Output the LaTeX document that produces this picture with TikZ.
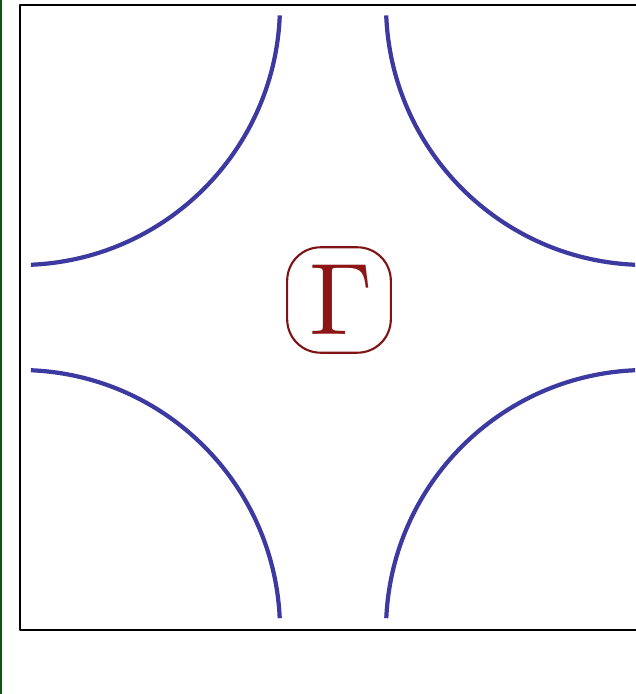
\documentclass[tikz,border=0pt]{standalone}
\usepackage{graphicx}
\definecolor{arcblue}{RGB}{60,58,160}
\definecolor{gamred}{RGB}{140,22,22}
\definecolor{edgegreen}{RGB}{10,90,10}
\tikzset{
	fermi/.style={line width=2.4pt,color=arcblue,line cap=butt},
	gambox/.style={draw=gamred!90!black,line width=1.2pt,rounded corners=19pt,minimum width=59pt,minimum height=60pt,inner sep=0pt,text=gamred}
}
\begin{document}
\begin{tikzpicture}[x=0.02cm,y=0.02cm,line join=round]
	\useasboundingbox (0,0) rectangle (636,694);
	\def\xtrai{20} \def\xphai{646}
	\def\yduoi{64} \def\ytren{689}
	\def\R{260}
	\draw[edgegreen,line width=1.7pt] (1,0)--(1,694);
	\begin{scope}
		\clip (0,0) rectangle (636,694);
		\draw[line width=1.1pt] (\xtrai,\ytren) rectangle (\xphai,\yduoi);
		% the four corner pockets
		\draw[fermi] ([shift={(-2.3:\R)}]\xtrai,\ytren) arc (-2.3:-87.6:\R);
		\draw[fermi] ([shift={(182.3:\R)}]\xphai,\ytren) arc (182.3:267.6:\R);
		\draw[fermi] ([shift={(2.6:\R)}]\xtrai,\yduoi) arc (2.6:87.6:\R);
		\draw[fermi] ([shift={(177.4:\R)}]\xphai,\yduoi) arc (177.4:92.4:\R);
	\end{scope}
	\node[gambox] (G) at (339,394) {\kern3pt\scalebox{5.8}{$\Gamma$}};
\end{tikzpicture}
\end{document}
